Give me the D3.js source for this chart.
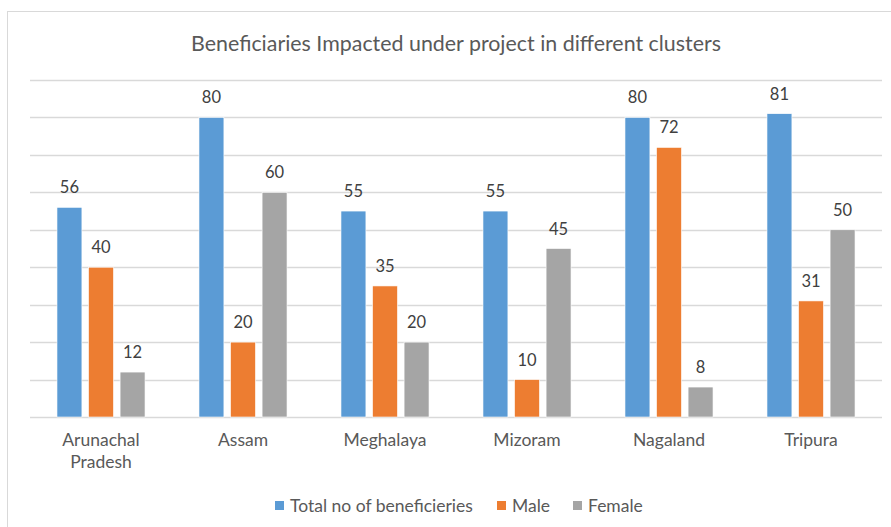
<!DOCTYPE html>
<html>
<head>
<meta charset="utf-8">
<script src="https://cdn.jsdelivr.net/npm/d3@7"></script>
<style>
  body { margin: 0; background: #fff; }
  text { font-family: Lato, "Liberation Sans", sans-serif; fill: #595959; }
</style>
</head>
<body>
<svg id="chart" width="891" height="527"></svg>
<script>
// Beneficiaries per cluster

const clusters = ['Arunachal Pradesh', 'Assam', 'Meghalaya', 'Mizoram', 'Nagaland', 'Tripura'];
const seriesNames = ['Total no of beneficieries', 'Male', 'Female'];
const totals = [56, 80, 55, 55, 80, 81];
const male = [40, 20, 35, 10, 72, 31];
const female = [12, 60, 20, 45, 8, 50];
const colors = ['#5B9BD5', '#ED7D31', '#A5A5A5'];

const rows = clusters.map((c, i) => ({
  name: c,
  values: [totals[i], male[i], female[i]]
}));

const svg = d3.select('#chart');

// chart frame
svg.append('rect')
  .attr('x', 7.5).attr('y', 11.5)
  .attr('width', 900).attr('height', 540)
  .attr('fill', '#fff')
  .attr('stroke', '#d9d9d9');

svg.append('text')
  .attr('x', 456).attr('y', 51)
  .attr('text-anchor', 'middle')
  .style('font-size', '21.4px')
  .text('Beneficiaries Impacted under project in different clusters');

const x0 = d3.scaleBand()
  .domain(clusters)
  .range([30, 882]);

const bw = x0.bandwidth();
const x1 = d3.scaleBand()
  .domain(d3.range(3))
  .range([bw * 0.19, bw * 0.81])
  .paddingInner(0.21);

const y = d3.scaleLinear()
  .domain([0, 90])
  .range([417, 80]);

// gridlines
svg.append('g')
  .selectAll('line')
  .data(y.ticks(9))
  .enter()
  .append('line')
    .attr('x1', 30).attr('x2', 882)
    .attr('y1', d => Math.round(y(d)) + 0.5)
    .attr('y2', d => Math.round(y(d)) + 0.5)
    .attr('stroke', '#d9d9d9')
    .attr('stroke-width', 1.3);

const groups = svg.append('g')
  .selectAll('g')
  .data(rows)
  .enter()
  .append('g')
    .attr('transform', d => `translate(${x0(d.name)},0)`);

groups.selectAll('rect')
  .data(d => d.values)
  .enter()
  .append('rect')
    .attr('x', (d, i) => x1(i))
    .attr('y', d => y(d))
    .attr('width', x1.bandwidth())
    .attr('height', d => y(0) - y(d))
    .attr('fill', (d, i) => colors[i])
    .attr('stroke', '#fff')
    .attr('stroke-width', 0.6);

groups.selectAll('text.val')
  .data(d => d.values)
  .enter()
  .append('text')
    .attr('class', 'val')
    .attr('x', (d, i) => x1(i) + x1.bandwidth() / 2)
    .attr('y', d => y(d) - 14)
    .attr('text-anchor', 'middle')
    .style('font-size', '16.5px')
    .style('fill', '#404040')
    .text(d => d);

// category labels (wrap two-word names)
groups.append('text')
  .attr('text-anchor', 'middle')
  .style('font-size', '17.5px')
  .each(function(d) {
    const words = d.name.split(' ');
    const t = d3.select(this);
    words.forEach((w, k) => {
      t.append('tspan')
        .attr('x', bw / 2)
        .attr('y', 446 + k * 22)
        .text(w);
    });
  });

// legend
const legendX = [275, 497, 573];
const legend = svg.append('g')
  .selectAll('g')
  .data(seriesNames)
  .enter()
  .append('g')
    .attr('transform', (d, i) => `translate(${legendX[i]},501)`);

legend.append('rect')
  .attr('width', 9).attr('height', 9)
  .attr('fill', (d, i) => colors[i]);

legend.append('text')
  .attr('x', 15).attr('y', 10.5)
  .style('font-size', '17.5px')
  .text(d => d);
</script>
</body>
</html>
